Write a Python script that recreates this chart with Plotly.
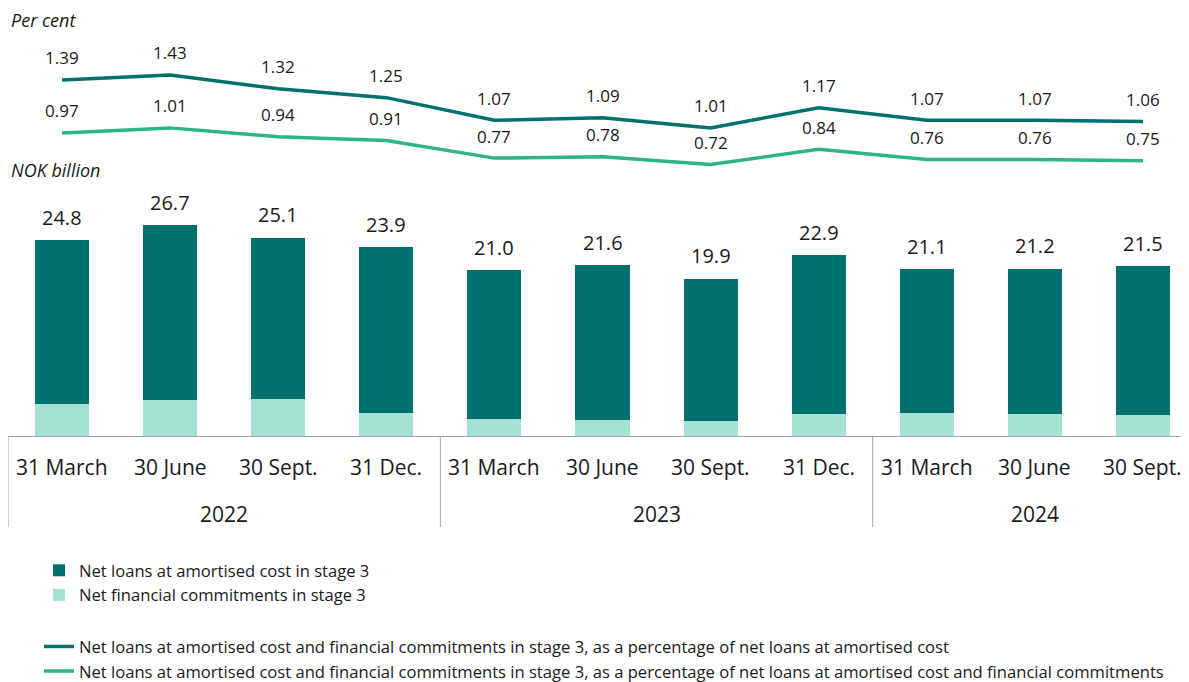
import plotly.graph_objects as go

quarters = ["31 March", "30 June", "30 Sept.", "31 Dec.",
            "31 March", "30 June", "30 Sept.", "31 Dec.",
            "31 March", "30 June", "30 Sept."]
years = ["2022", "2023", "2024"]
year_sizes = [4, 4, 3]
totals = [24.8, 26.7, 25.1, 23.9, 21.0, 21.6, 19.9, 22.9, 21.1, 21.2, 21.5]
commitments = [4.1, 4.6, 4.7, 2.9, 2.2, 2.0, 1.9, 2.8, 2.9, 2.8, 2.7]
loans = [round(t - c, 1) for t, c in zip(totals, commitments)]
pct_loans = [1.39, 1.43, 1.32, 1.25, 1.07, 1.09, 1.01, 1.17, 1.07, 1.07, 1.06]
pct_total = [0.97, 1.01, 0.94, 0.91, 0.77, 0.78, 0.72, 0.84, 0.76, 0.76, 0.75]

names = [
    "Net loans at amortised cost in stage 3",
    "Net financial commitments in stage 3",
    "Net loans at amortised cost and financial commitments in stage 3, as a percentage of net loans at amortised cost",
    "Net loans at amortised cost and financial commitments in stage 3, as a percentage of net loans at amortised cost and financial commitments",
]

DARK = "#00716D"
LIGHT = "#A6E2D3"
LINE2 = "#2DB48A"
TXT = "#1a1a1a"
FONT = "Open Sans"
W, H = 1189, 682
OFF = 8  # page body margin


def px(pix):
    return (pix - OFF) / W


def py(pix):
    return (H - (pix - OFF)) / H


xs = list(range(len(quarters)))

fig = go.Figure()
fig.add_trace(go.Bar(x=xs, y=commitments, name=names[1], marker_color=LIGHT,
                     marker_line_width=0, width=0.5, legendgroup="bars", legendrank=2,
                     hoverinfo="skip"))
fig.add_trace(go.Bar(x=xs, y=loans, name=names[0], marker_color=DARK,
                     marker_line_width=0, width=0.5, legendgroup="bars", legendrank=1,
                     hoverinfo="skip"))
fig.add_trace(go.Scatter(x=xs, y=pct_loans, name=names[2], mode="lines",
                         line=dict(color=DARK, width=3.5), yaxis="y2",
                         legendgroup="lines", legendrank=3))
fig.add_trace(go.Scatter(x=xs, y=pct_total, name=names[3], mode="lines",
                         line=dict(color=LINE2, width=3.5), yaxis="y2",
                         legendgroup="lines", legendrank=4))

ann = []
for i, t in enumerate(totals):
    ann.append(dict(x=i, y=t, xref="x", yref="y", text=f"{t:.1f}", showarrow=False,
                    yanchor="middle", yshift=23, font=dict(size=20, color=TXT, family=FONT)))
for series in (pct_loans, pct_total):
    for i, v in enumerate(series):
        ann.append(dict(x=i, y=v, xref="x", yref="y2", text=f"{v:.2f}", showarrow=False,
                        yanchor="middle", yshift=22, font=dict(size=17, color=TXT, family=FONT)))
for i, q in enumerate(quarters):
    ann.append(dict(x=i, y=py(467), xref="x", yref="paper", text=q, showarrow=False,
                    yanchor="middle", font=dict(size=21, color=TXT, family=FONT)))
start = 0
shapes = []
for yr, n in zip(years, year_sizes):
    ann.append(dict(x=start + (n - 1) / 2, y=py(514), xref="x", yref="paper", text=yr,
                    showarrow=False, yanchor="middle",
                    font=dict(size=21, color=TXT, family=FONT)))
    shapes.append(dict(type="line", xref="x", yref="paper", x0=start - 0.5, x1=start - 0.5,
                       y0=py(436), y1=py(527), line=dict(color="#a6a6a6", width=1)))
    start += n
ann.append(dict(x=px(9), y=py(20), xref="paper", yref="paper", text="<i>Per cent</i>",
                showarrow=False, xanchor="left", yanchor="middle",
                font=dict(size=18, color=TXT, family=FONT)))
ann.append(dict(x=px(9), y=py(170), xref="paper", yref="paper", text="<i>NOK billion</i>",
                showarrow=False, xanchor="left", yanchor="middle",
                font=dict(size=18, color=TXT, family=FONT)))

fig.update_layout(
    width=W, height=H,
    margin=dict(l=0, r=0, t=0, b=0),
    paper_bgcolor="white", plot_bgcolor="white",
    barmode="stack", bargap=0.5,
    showlegend=True,
    legend=dict(x=px(39), y=py(553), xanchor="left", yanchor="top",
                traceorder="grouped", tracegroupgap=27,
                font=dict(size=16.6, color=TXT, family=FONT),
                bgcolor="rgba(0,0,0,0)"),
    xaxis=dict(domain=[0, 1], range=[-0.5, 10.5],
               showticklabels=False, ticks="", showgrid=False, zeroline=False,
               showline=True, linecolor="#a6a6a6", linewidth=1, fixedrange=True),
    yaxis=dict(domain=[py(436), py(200)], range=[0, 236 / 7.9], visible=False,
               showgrid=False, zeroline=False, fixedrange=True),
    yaxis2=dict(domain=[py(180), py(40)], range=[1.39 - 100 / 126, 1.39 + 40 / 126],
                anchor="x", visible=False, showgrid=False, zeroline=False, fixedrange=True),
    annotations=ann, shapes=shapes,
    font=dict(family=FONT),
)

fig.write_html("out.html")
